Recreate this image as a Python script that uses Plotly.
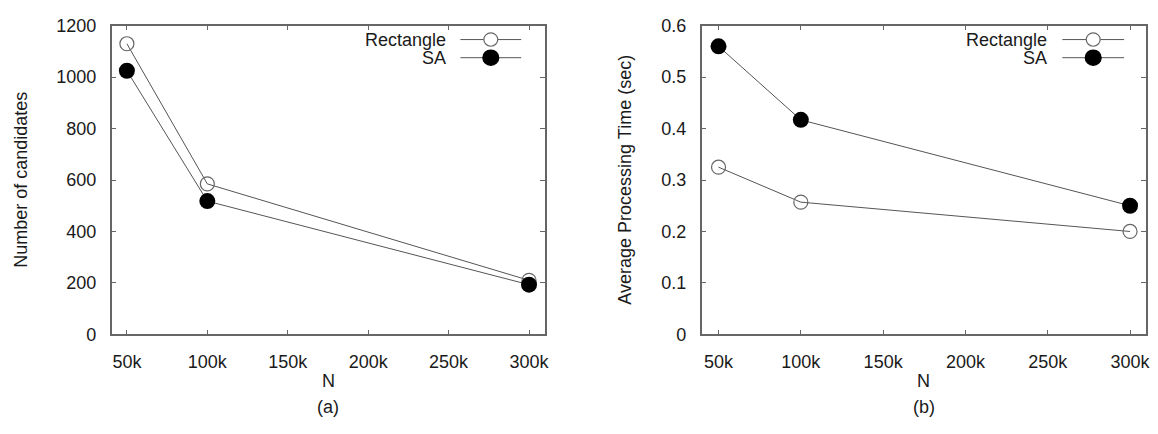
import plotly.graph_objects as go

N = [50, 100, 300]  # in thousands
cand_rect = [1130, 585, 210]
cand_sa = [1025, 518, 193]
time_rect = [0.325, 0.257, 0.200]
time_sa = [0.560, 0.417, 0.250]
x_ticks = [50, 100, 150, 200, 250, 300]
x_ticklabels = ["50k", "100k", "150k", "200k", "250k", "300k"]
series_names = ["Rectangle", "SA"]

W, H = 1158, 434
FONT = "Liberation Sans, Arial, sans-serif"
FS = 18
TXT = "#1a1a1a"
LINE = "#555555"
FRAME = "#666666"

fig = go.Figure()

def px(x):
    return x / W

def py(y):
    return 1 - y / H

dom1 = [px(112), px(547)]
dom2 = [px(704), px(1150)]
ydom = [py(340), py(16.5)]

open_marker = dict(symbol="circle-open", size=14, color="#666666", line=dict(width=1.2, color="#666666"))
filled_marker = dict(symbol="circle", size=16, color="#000000", line=dict(width=0))

for xa, ya, rect, sa in [("x", "y", cand_rect, cand_sa), ("x2", "y2", time_rect, time_sa)]:
    fig.add_trace(go.Scatter(x=N, y=rect, mode="lines+markers", xaxis=xa, yaxis=ya,
                             line=dict(color=LINE, width=1), marker=open_marker,
                             name=series_names[0], showlegend=False))
    fig.add_trace(go.Scatter(x=N, y=sa, mode="lines+markers", xaxis=xa, yaxis=ya,
                             line=dict(color=LINE, width=1), marker=filled_marker,
                             name=series_names[1], showlegend=False))

axis_common = dict(showline=True, linecolor=FRAME, linewidth=1.5, mirror="ticks",
                   ticks="inside", ticklen=5, tickcolor=FRAME, tickwidth=1,
                   showgrid=False, zeroline=False,
                   tickfont=dict(family=FONT, size=FS, color=TXT))

fig.update_layout(
    width=W, height=H,
    margin=dict(l=0, r=0, t=0, b=0),
    paper_bgcolor="white", plot_bgcolor="white",
    showlegend=False,
    xaxis=dict(domain=dom1, range=[40.5, 310], tickvals=x_ticks, ticktext=x_ticklabels,
               anchor="y", ticklabelstandoff=10, **axis_common),
    yaxis=dict(domain=ydom, range=[0, 1200], tickvals=[0, 200, 400, 600, 800, 1000, 1200],
               anchor="x", ticklabelstandoff=10, **axis_common),
    xaxis2=dict(domain=dom2, range=[39.7, 309.7], tickvals=x_ticks, ticktext=x_ticklabels,
                anchor="y2", ticklabelstandoff=10, **axis_common),
    yaxis2=dict(domain=ydom, range=[0, 0.6], tickvals=[0, 0.1, 0.2, 0.3, 0.4, 0.5, 0.6],
                ticktext=["0", "0.1", "0.2", "0.3", "0.4", "0.5", "0.6"],
                anchor="x2", ticklabelstandoff=10, **axis_common),
)

tfont = dict(family=FONT, size=FS, color=TXT)

# axis titles and sub-captions
for ytitle, yx, cx, cap in [("Number of candidates", 21, (112 + 547) / 2, "(a)"),
                            ("Average Processing Time (sec)", 627, (704 + 1150) / 2, "(b)")]:
    fig.add_annotation(text=ytitle, x=px(yx), y=py(178), xref="paper", yref="paper",
                       showarrow=False, textangle=-90, xanchor="center", yanchor="middle", font=tfont)
    fig.add_annotation(text="N", x=px(cx), y=py(389), xref="paper", yref="paper",
                       showarrow=False, xanchor="center", yanchor="middle", font=tfont)
    fig.add_annotation(text=cap, x=px(cx), y=py(416), xref="paper", yref="paper",
                       showarrow=False, xanchor="center", yanchor="middle", font=tfont)

# manual gnuplot-style legends (text right, sample line + symbol)
for text_right, line_l, line_r in [(450, 462, 523), (1053, 1066, 1128)]:
    for i, (name, ly) in enumerate(zip(series_names, [31, 50])):
        fig.add_annotation(text=name, x=px(text_right), y=py(ly), xref="paper", yref="paper",
                           showarrow=False, xanchor="right", yanchor="middle", font=tfont)
        fig.add_shape(type="line", x0=px(line_l), x1=px(line_r), y0=py(ly), y1=py(ly),
                      xref="paper", yref="paper", line=dict(color=LINE, width=1))
        cxm = (line_l + line_r) / 2
        r = 7 if i == 0 else 8
        fig.add_shape(type="circle", x0=px(cxm - r), x1=px(cxm + r), y0=py(ly + r), y1=py(ly - r),
                      xref="paper", yref="paper",
                      line=dict(color="#666666" if i == 0 else "#000000", width=1.2),
                      fillcolor="white" if i == 0 else "black")

fig.write_html("out.html")
